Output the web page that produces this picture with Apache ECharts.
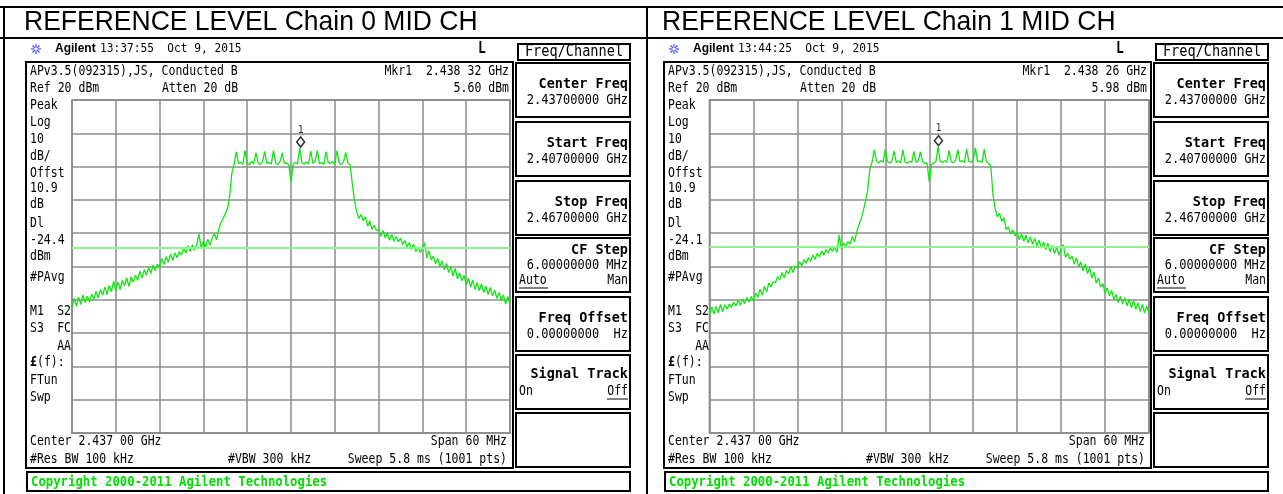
<!DOCTYPE html>
<html>
<head>
<meta charset="utf-8">
<script src="https://cdn.jsdelivr.net/npm/echarts@6/dist/echarts.min.js"></script>
<style>
html,body{margin:0;padding:0;background:#fff;}
#c{width:1283px;height:494px;}
</style>
</head>
<body>
<div id="c"></div>
<script>
// ---------------- DATA ----------------
const panelTitles = ['REFERENCE LEVEL Chain 0 MID CH', 'REFERENCE LEVEL Chain 1 MID CH'];
const timestamps = ['13:37:55  Oct 9, 2015', '13:44:25  Oct 9, 2015'];
const markerFreqText = ['Mkr1  2.438 32 GHz', 'Mkr1  2.438 26 GHz'];
const markerLevelText = ['5.60 dBm', '5.98 dBm'];
const displayLineText = ['-24.4', '-24.1'];
const markerFreqMHz = [2438.32, 2438.26];
const markerLevel = [5.60, 5.98];
const displayLine = [-24.4, -24.1];
const sweepStartMHz = 2407;
const sweepSpanMHz = 60;
const sweepStepMHz = 0.3;
const freqDivMHz = 6;
const refLevel = 20;
const bottomLevel = -80;
const dbPerDiv = 10;

// trace levels (dBm), one value every 0.3 MHz from 2.407 GHz to 2.467 GHz
const chain0Level = [
 -42.3,-39.6,-41.9,-39.2,-41.4,-38.5,-40.8,-38.9,-40.7,-38.3,
 -39.8,-37.4,-39.5,-36.9,-38.6,-36.2,-38.4,-35.7,-37.6,-34.4,
 -37.3,-34.6,-36.9,-34.2,-35.8,-33.4,-36.0,-33.1,-34.7,-32.6,
 -34.1,-31.4,-33.5,-30.9,-32.6,-30.2,-32.1,-29.6,-31.2,-29.3,
 -30.1,-27.6,-29.4,-27.0,-28.7,-26.3,-28.2,-25.9,-27.4,-25.5,
 -26.6,-24.4,-26.0,-23.8,-25.5,-23.5,-25.1,-23.2,-20.3,-24.6,
 -22.5,-24.3,-21.8,-23.6,-21.5,-20.1,-22.0,-18.9,-16.8,-15.6,
 -14.2,-12.6,-8.9,-1.8,0.6,4.4,0.9,1.3,0.7,4.9,
 1.2,0.5,1.6,0.8,4.2,1.1,0.6,1.4,4.6,0.9,
 1.3,0.7,4.8,1.0,0.6,1.5,4.1,0.9,1.2,0.4,
 -4.6,0.8,1.3,0.9,5.6,1.1,0.7,1.4,0.8,4.7,
 1.0,1.5,4.9,0.8,1.2,0.6,4.5,1.3,0.9,1.5,
 0.7,4.8,1.1,0.6,1.4,4.3,1.0,0.5,-5.2,-10.3,
 -13.6,-15.6,-14.4,-16.2,-15.1,-17.9,-16.3,-18.9,-17.6,-19.3,
 -18.7,-20.9,-19.2,-21.4,-20.0,-22.1,-20.4,-22.4,-21.0,-22.6,
 -21.5,-23.4,-22.2,-24.1,-22.8,-24.9,-23.3,-25.6,-24.1,-25.8,
 -24.6,-22.8,-27.4,-25.3,-28.0,-26.9,-29.2,-27.6,-30.1,-28.3,
 -31.0,-29.1,-31.8,-30.0,-32.9,-30.6,-33.7,-31.9,-34.3,-32.6,
 -35.6,-33.5,-36.2,-34.1,-36.9,-34.8,-37.3,-35.2,-37.8,-35.9,
 -38.4,-36.3,-38.9,-37.1,-39.6,-37.8,-40.2,-38.5,-41.3,-39.0,-41.5
];
const chain1Level = [
 -44.6,-42.1,-44.3,-42.0,-43.9,-41.4,-43.6,-41.5,-42.8,-41.3,
 -42.3,-40.7,-41.9,-40.0,-41.6,-39.8,-41.2,-39.3,-40.7,-39.0,
 -40.4,-38.0,-39.3,-36.8,-38.6,-35.9,-37.7,-34.9,-36.1,-34.6,
 -34.9,-33.0,-34.0,-31.8,-33.4,-31.2,-32.2,-30.0,-31.8,-29.9,
 -30.4,-28.6,-29.8,-28.0,-29.0,-27.3,-28.5,-26.5,-27.9,-26.1,
 -27.1,-25.4,-26.6,-24.9,-26.0,-24.4,-25.5,-24.0,-25.8,-20.5,
 -24.8,-22.9,-24.0,-22.5,-23.3,-21.0,-22.6,-19.6,-17.4,-15.8,
 -13.2,-10.4,-6.9,-0.6,1.4,5.1,1.6,1.1,1.8,1.3,
 5.2,1.5,1.0,1.7,4.7,1.2,1.8,1.1,5.0,1.4,
 1.0,1.6,1.3,4.6,1.2,1.7,4.4,1.5,0.9,1.1,
 -4.5,0.6,1.1,1.4,5.98,1.6,1.2,1.8,1.3,4.9,
 1.5,1.1,1.9,5.1,1.4,1.8,1.2,5.3,1.6,1.3,
 1.9,5.6,1.4,1.7,1.2,5.2,1.5,1.0,0.2,-8.4,
 -12.6,-15.1,-14.0,-16.4,-15.3,-18.9,-18.1,-20.2,-19.0,-20.8,
 -19.6,-22.0,-20.2,-22.4,-20.6,-22.9,-21.1,-23.3,-21.5,-23.8,
 -22.1,-24.5,-22.6,-24.9,-23.0,-25.6,-23.7,-26.1,-24.2,-26.6,
 -24.6,-23.4,-27.3,-26.0,-27.8,-26.9,-29.3,-27.4,-30.1,-28.6,
 -31.3,-29.2,-32.1,-30.5,-33.5,-31.7,-35.0,-33.4,-36.2,-35.1,
 -38.0,-36.4,-38.9,-37.2,-39.9,-38.4,-40.8,-38.9,-41.3,-39.4,
 -41.8,-39.8,-42.4,-40.3,-42.9,-40.9,-43.5,-41.4,-44.0,-41.9,-44.1
];
const leftLabels = ['Peak','Log','10','dB/','Offst','10.9','dB','Dl', null,'dBm','#PAvg'];
const softkeyTitles = ['Center Freq','Start Freq','Stop Freq','CF Step','Freq Offset','Signal Track'];
const softkeyValues = ['2.43700000 GHz','2.40700000 GHz','2.46700000 GHz','6.00000000 MHz','0.00000000  Hz',''];

// ---------------- DRAWING ----------------
const MONO = '"DejaVu Sans Mono", "Liberation Mono", monospace';
function T(x, y, text, o) {
  o = o || {};
  const al = o.align || 'left';
  return {
    type: 'text', x: x, y: y, scaleY: o.sy == null ? 1.15 : o.sy, z: 20, silent: true,
    style: {
      text: text, x: 0, y: 0, fill: o.color || '#000',
      fontSize: o.size || 11.5, fontFamily: o.family || MONO, fontWeight: o.weight || 'normal',
      textAlign: al, align: al, textVerticalAlign: 'middle', verticalAlign: 'middle'
    }
  };
}
function R(x, y, w, h, lw, stroke) {
  return { type: 'rect', z: 15, silent: true, shape: { x: x, y: y, width: w, height: h },
    style: { fill: 'transparent', stroke: stroke || '#000', lineWidth: lw || 2 } };
}
function L(x1, y1, x2, y2, lw, stroke) {
  return { type: 'line', z: 15, silent: true, shape: { x1: x1, y1: y1, x2: x2, y2: y2 },
    style: { stroke: stroke || '#000', lineWidth: lw || 1 } };
}

function panel(p, dx) {
  const els = [];
  els.push(T(24 + dx, 22, panelTitles[p], { size: 26.5, family: '"Liberation Sans", Arial, sans-serif', sy: 1.03 }));
  const cx = 36 + dx, cy = 49;
  for (let k = 0; k < 8; k++) {
    const a = k * Math.PI / 4;
    els.push(L(cx + Math.cos(a) * 1.5, cy + Math.sin(a) * 1.5, cx + Math.cos(a) * 5, cy + Math.sin(a) * 5, 1.2, '#3a4bff'));
  }
  els.push(T(55 + dx, 49, 'Agilent', { size: 12, weight: 'bold', family: '"Liberation Sans", Arial, sans-serif', sy: 1.05 }));
  els.push(T(100 + dx, 49, timestamps[p], { size: 11.2 }));
  els.push(T(478 + dx, 49, 'L', { size: 13, weight: 'bold' }));
  els.push(R(518 + dx, 44, 112, 16, 2));
  els.push(T(574 + dx, 52, 'Freq/Channel', { size: 13.6, align: 'center', sy: 1.12 }));
  els.push(R(26 + dx, 62, 487, 406, 2));
  els.push(T(30 + dx, 72, 'APv3.5(092315),JS, Conducted B'));
  els.push(T(509 + dx, 72, markerFreqText[p], { align: 'right' }));
  els.push(T(30 + dx, 89, 'Ref 20 dBm'));
  els.push(T(162 + dx, 89, 'Atten 20 dB'));
  els.push(T(509 + dx, 89, markerLevelText[p], { align: 'right' }));
  const ys = [106, 123, 140, 157, 174, 189, 205, 224, 241, 257, 278];
  leftLabels.forEach((s, i) => {
    els.push(T(30 + dx, ys[i], s === null ? displayLineText[p] : s));
  });
  els.push(T(30 + dx, 312, 'M1'));
  els.push(T(71 + dx, 312, 'S2', { align: 'right' }));
  els.push(T(30 + dx, 329, 'S3'));
  els.push(T(71 + dx, 329, 'FC', { align: 'right' }));
  els.push(T(71 + dx, 347, 'AA', { align: 'right' }));
  els.push(T(30 + dx, 363, '£', { weight: 'bold' }));
  els.push(T(37 + dx, 363, '(f):'));
  els.push(T(30 + dx, 381, 'FTun'));
  els.push(T(30 + dx, 398, 'Swp'));
  els.push(T(30 + dx, 442, 'Center 2.437 00 GHz'));
  els.push(T(507 + dx, 442, 'Span 60 MHz', { align: 'right' }));
  els.push(T(30 + dx, 460, '#Res BW 100 kHz'));
  els.push(T(228 + dx, 460, '#VBW 300 kHz'));
  els.push(T(507 + dx, 460, 'Sweep 5.8 ms (1001 pts)', { align: 'right' }));
  els.push(R(27 + dx, 472, 603, 19, 2));
  els.push(T(31 + dx, 482, 'Copyright 2000-2011 Agilent Technologies', { size: 12.3, weight: 'bold', color: '#00e000', sy: 1.1 }));
  const tops = [63, 122, 181, 238, 297, 355, 413];
  tops.forEach((t, i) => {
    els.push(R(516 + dx, t, 114, 54, 2));
    if (i >= softkeyTitles.length) return;
    if (i === 3) {
      els.push(T(628 + dx, t + 12, softkeyTitles[i], { size: 13.5, weight: 'bold', align: 'right', sy: 1.1 }));
      els.push(T(628 + dx, t + 28, softkeyValues[i], { size: 12, align: 'right', sy: 1.1 }));
      els.push(T(519 + dx, t + 43, 'Auto', { size: 11.5 }));
      els.push(L(519 + dx, t + 50, 548 + dx, t + 50, 1));
      els.push(T(628 + dx, t + 43, 'Man', { size: 11.5, align: 'right' }));
    } else if (i === 5) {
      els.push(T(628 + dx, t + 19, softkeyTitles[i], { size: 13.5, weight: 'bold', align: 'right', sy: 1.1 }));
      els.push(T(519 + dx, t + 37, 'On', { size: 11.5 }));
      els.push(T(628 + dx, t + 37, 'Off', { size: 11.5, align: 'right' }));
      els.push(L(607 + dx, t + 44, 628 + dx, t + 44, 1));
    } else {
      els.push(T(628 + dx, t + 21, softkeyTitles[i], { size: 13.5, weight: 'bold', align: 'right', sy: 1.1 }));
      els.push(T(628 + dx, t + 38, softkeyValues[i], { size: 12, align: 'right', sy: 1.1 }));
    }
  });
  return els;
}

const graphics = [];
graphics.push(L(0, 7, 1283, 7, 2));
graphics.push(L(0, 38, 1283, 38, 2));
graphics.push(L(4, 7, 4, 494, 2));
graphics.push(L(647, 7, 647, 494, 2));
graphics.push(...panel(0, 0));
graphics.push(...panel(1, 638));

function toXY(arr) { return arr.map((v, i) => [i * sweepStepMHz, v]); }

const gridDefs = [
  { left: 72, top: 100, width: 438, height: 333 },
  { left: 709.5, top: 100, width: 439.5, height: 333 }
];
const grids = gridDefs.map(g => Object.assign({ show: true, borderColor: '#777', borderWidth: 1.5, backgroundColor: 'transparent', containLabel: false }, g));
const xAxes = [0, 1].map(i => ({
  gridIndex: i, type: 'value', min: 0, max: sweepSpanMHz, interval: freqDivMHz,
  axisLine: { show: false }, axisTick: { show: false }, axisLabel: { show: false },
  splitLine: { show: true, lineStyle: { color: '#8c8c8c', width: 1.5 } }
}));
const yAxes = [0, 1].map(i => ({
  gridIndex: i, type: 'value', min: bottomLevel, max: refLevel, interval: dbPerDiv,
  axisLine: { show: false }, axisTick: { show: false }, axisLabel: { show: false },
  splitLine: { show: true, lineStyle: { color: '#8c8c8c', width: 1.5 } }
}));

const traces = [chain0Level, chain1Level];
const series = [];
traces.forEach((arr, i) => {
  series.push({
    type: 'line', xAxisIndex: i, yAxisIndex: i, data: toXY(arr),
    showSymbol: false, symbol: 'none', animation: false, z: 3,
    lineStyle: { color: '#12e612', width: 1.3 },
    markLine: {
      silent: true, symbol: 'none', animation: false, label: { show: false },
      lineStyle: { color: '#8cf58c', width: 2, type: 'solid' },
      data: [{ yAxis: displayLine[i] }]
    }
  });
  series.push({
    type: 'scatter', xAxisIndex: i, yAxisIndex: i, animation: false, z: 6,
    data: [[markerFreqMHz[i] - sweepStartMHz, markerLevel[i]]],
    symbol: 'diamond', symbolSize: [8, 10], symbolOffset: [0, -6],
    itemStyle: { color: '#fff', borderColor: '#000', borderWidth: 1.5 },
    label: { show: true, position: 'top', formatter: '1', fontSize: 10, color: '#000', distance: 1, fontFamily: MONO }
  });
});

const chart = echarts.init(document.getElementById('c'), null, { renderer: 'canvas' });
chart.setOption({
  animation: false,
  backgroundColor: '#fff',
  grid: grids,
  xAxis: xAxes,
  yAxis: yAxes,
  series: series,
  graphic: { elements: graphics }
});
</script>
</body>
</html>
